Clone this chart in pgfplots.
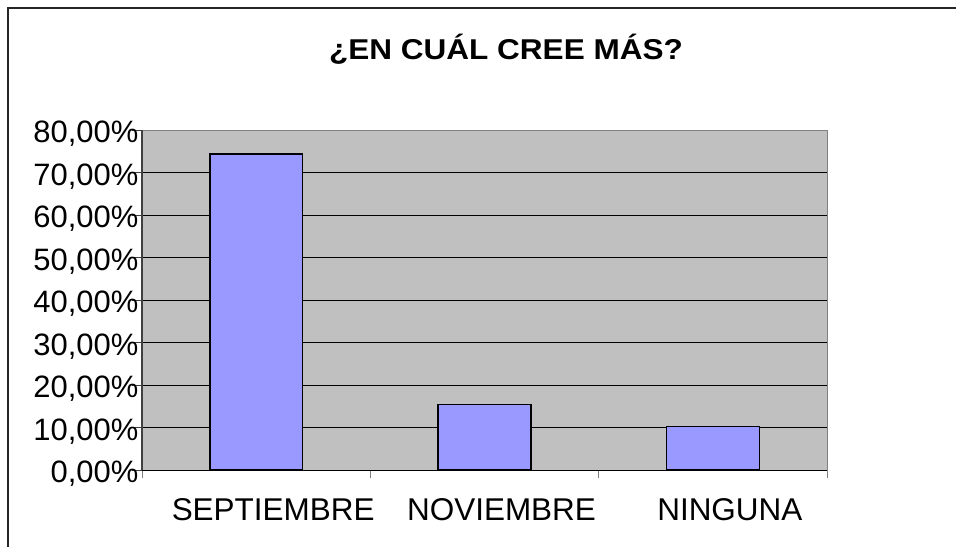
\documentclass[border=0pt]{standalone}
\usepackage{pgfplots}
\pgfplotsset{compat=1.18}
\usepackage{fontspec}
\setmainfont{Liberation Sans}
\definecolor{plotbg}{RGB}{192,192,192}
\definecolor{barfill}{RGB}{153,153,255}
\definecolor{framegray}{RGB}{128,128,128}
\begin{document}
\begin{tikzpicture}
% picture is 956 x 547 px, 1 px = 0.75pt
\path[use as bounding box] (0,0) rectangle (717pt,410.25pt);
\draw[line width=1.5pt, black!85] (6pt,0pt) -- (6pt,404.25pt) -- (717pt,404.25pt);
\node[font=\fontsize{21.5}{25}\selectfont\bfseries] at (379.5pt,373pt) {\scalebox{1.1}[1]{¿EN CUÁL CREE MÁS?}};
\begin{axis}[
    at={(106.5pt,57.75pt)}, anchor=south west,
    scale only axis,
    width=513.75pt, height=255pt,
    xmin=-0.5, xmax=2.5,
    ymin=0, ymax=80,
    axis background/.style={fill=plotbg},
    axis line style={draw=framegray, line width=0.75pt},
    ymajorgrids, grid style={black, line width=0.75pt},
    tick align=outside,
    xtick pos=bottom, ytick pos=left,
    major tick length=7.5pt,
    minor tick length=6pt,
    xtick={0,1,2},
    xticklabels={SEPTIEMBRE,NOVIEMBRE,NINGUNA},
    major x tick style={draw=none},
    minor xtick={-0.5,0.5,1.5,2.5},
    minor x tick style={framegray, line width=0.75pt},
    ytick={0,10,20,30,40,50,60,70,80},
    yticklabels={{0,00\%},{10,00\%},{20,00\%},{30,00\%},{40,00\%},{50,00\%},{60,00\%},{70,00\%},{80,00\%}},
    ytick style={black!75, line width=0.75pt},
    yticklabel style={font=\fontsize{23.2}{26}\selectfont, anchor=east, inner sep=0pt, xshift=5pt, yshift=-3pt},
    xticklabel style={font=\fontsize{23.6}{28}\selectfont, anchor=north, inner sep=0pt, xshift=12.75pt, yshift=-13.5pt},
    clip=false,
]
\addplot[ybar, bar width=0.407, fill=barfill, draw=black, line width=1.2pt] coordinates {
    (0, 74.36)
    (1, 15.38)
    (2, 10.26)
};
\draw[black!75, line width=1.2pt] (rel axis cs:0,0) -- (rel axis cs:0,1);
\draw[black, line width=0.75pt] (rel axis cs:0,0) -- (rel axis cs:1,0);
\end{axis}
\end{tikzpicture}
\end{document}
